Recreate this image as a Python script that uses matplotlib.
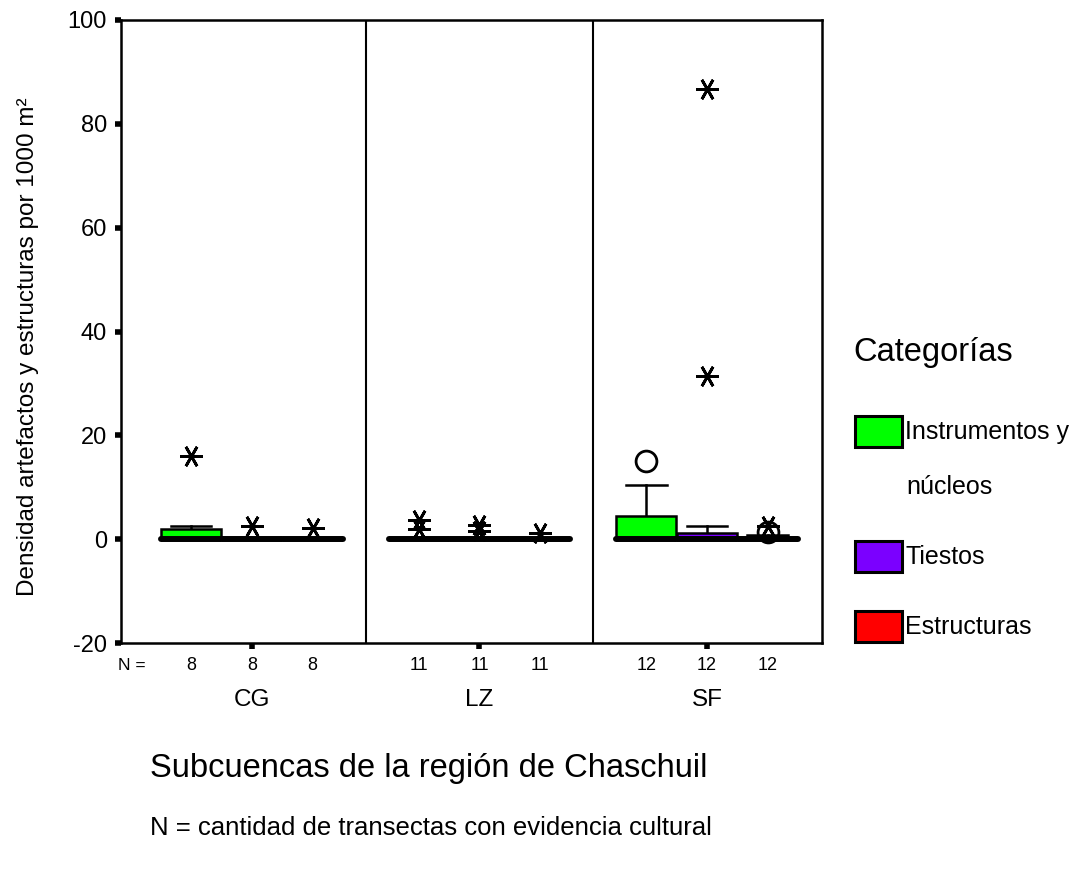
import matplotlib
matplotlib.use('Agg')
import matplotlib.pyplot as plt
from matplotlib.patches import Rectangle

plt.rcParams['font.family'] = ['Liberation Sans', 'DejaVu Sans']
plt.rcParams['axes.unicode_minus'] = False

# datos
grupos = ['CG', 'LZ', 'SF']
n_transectas = [8, 11, 12]
categorias = ['Instrumentos y', 'Tiestos', 'Estructuras']
colores = ['#00ff00', '#7b00ff', '#ff0000']

# cuartiles, mediana y bigote superior por grupo (filas) y categoria (columnas)
q1 = [[0, 0, 0], [0, 0, 0], [0, 0, 0]]
mediana = [[0, 0, 0], [0, 0, 0], [0, 0, 0]]
q3 = [[1.9, 0, 0], [0, 0, 0], [4.4, 1.2, 0]]
bigote = [[2.5, 0, 0], [0, 0, 0], [10.4, 2.6, 0.8]]
# valores atipicos (circulos) y extremos (asteriscos)
atipicos = [[[], [], []], [[], [], []], [[15.0], [], [1.4]]]
extremos = [[[16.0], [2.5], [2.1]],
            [[3.6, 2.0], [2.7, 1.5], [1.2]],
            [[], [31.4, 86.7], [2.5]]]

W, H = 1081, 869
fig = plt.figure(figsize=(W / 100, H / 100), dpi=100)
ax = fig.add_axes([121 / W, 1 - 643 / H, (822 - 121) / W, (643 - 20) / H])

desp = [-0.267, 0, 0.267]
ancho = 0.263
for g in range(3):
    for c in range(3):
        x = g + 1 + desp[c]
        alto = q3[g][c] - q1[g][c]
        if alto > 0:
            ax.add_patch(Rectangle((x - ancho / 2, q1[g][c]), ancho, alto,
                                   facecolor=colores[c], edgecolor='black',
                                   linewidth=1.8, zorder=3))
        # bigote superior
        if bigote[g][c] > q3[g][c]:
            ax.plot([x, x], [q3[g][c], bigote[g][c]], color='black', lw=1.8, zorder=2)
            ax.plot([x - ancho * 0.34, x + ancho * 0.34], [bigote[g][c]] * 2,
                    color='black', lw=1.8, zorder=2)
        # mediana
        ax.plot([x - ancho / 2, x + ancho / 2], [mediana[g][c]] * 2,
                color='black', lw=4.3, solid_capstyle='round', zorder=4)
        for v in atipicos[g][c]:
            ax.plot(x, v, marker='o', ms=15, mfc='none', mec='black', mew=2, zorder=5)
        for v in extremos[g][c]:
            ax.plot(x, v, marker=(6, 2, 90), ms=16, mec='black', mew=2, zorder=5)

for xd in [1.5, 2.5]:
    ax.axvline(xd, color='black', lw=1.5)

ax.set_xlim(0.425, 3.505)
ax.set_ylim(-20, 100)
ax.set_yticks([-20, 0, 20, 40, 60, 80, 100])
ax.set_xticks([1, 2, 3])
ax.set_xticklabels([])
ax.tick_params(axis='both', length=4, width=4, labelsize=17, pad=6)
for s in ax.spines.values():
    s.set_linewidth(1.8)

def fx(px):
    return px / W

def fy(py):
    return 1 - py / H

# etiquetas N y grupos
fig.text(fx(132), fy(665), 'N =', fontsize=12.5, ha='center', va='center')
for g in range(3):
    for c in range(3):
        x = g + 1 + desp[c]
        xf = fig.transFigure.inverted().transform(ax.transData.transform((x, 0)))[0]
        fig.text(xf, fy(665), str(n_transectas[g]), fontsize=13, ha='center', va='center')
    xf = fig.transFigure.inverted().transform(ax.transData.transform((g + 1, 0)))[0]
    fig.text(xf, fy(700), grupos[g], fontsize=17.5, ha='center', va='center')

fig.text(fx(28), fy(347), 'Densidad artefactos y estructuras por 1000 m²',
         rotation=90, fontsize=17.5, ha='center', va='center')
fig.text(fx(150), fy(768), 'Subcuencas de la región de Chaschuil',
         fontsize=23.5, ha='left', va='center')
fig.text(fx(150), fy(828), 'N = cantidad de transectas con evidencia cultural',
         fontsize=18.5, ha='left', va='center')

# leyenda
fig.text(fx(853), fy(353), 'Categorías', fontsize=23.5, ha='left', va='center')
cent_leyenda = [432, 557, 627]
for c in range(3):
    yc = cent_leyenda[c]
    fig.add_artist(Rectangle((fx(855), fy(yc + 15)), 47 / W, 31 / H,
                             facecolor=colores[c], edgecolor='black', linewidth=2.2,
                             transform=fig.transFigure))
    fig.text(fx(905), fy(yc), categorias[c], fontsize=18, ha='left', va='center')
fig.text(fx(906), fy(487), 'núcleos', fontsize=18, ha='left', va='center')

fig.savefig('out.png', dpi=100)
